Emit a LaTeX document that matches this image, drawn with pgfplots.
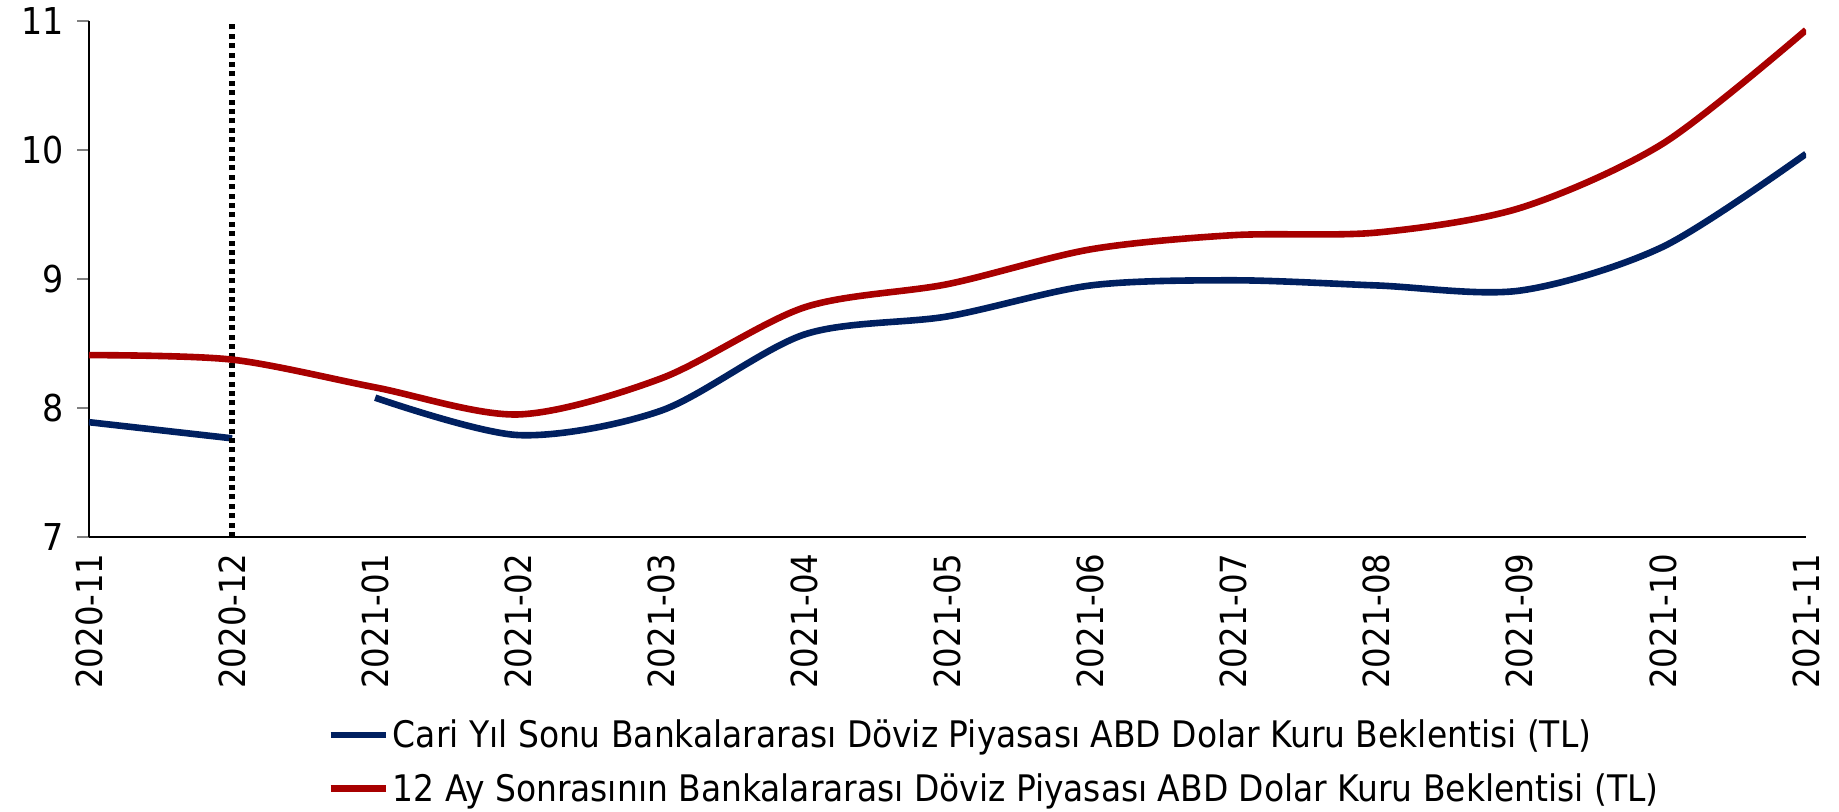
\documentclass[border=0pt]{standalone}
\usepackage{pgfplots}
\pgfplotsset{compat=1.18}
\usepackage{fontspec}
\setmainfont{DejaVu Sans Condensed}
\definecolor{cblue}{RGB}{0,32,96}
\definecolor{cred}{RGB}{168,0,0}
\begin{document}
\begin{tikzpicture}
\useasboundingbox (-44.5pt,-137.5pt) rectangle (875pt,268.5pt);
\begin{axis}[
  at={(0,0)}, anchor=south west,
  scale only axis, width=858.5pt, height=258pt,
  xmin=0, xmax=12, ymin=7, ymax=11,
  axis x line*=bottom, axis y line*=left,
  axis line style={-, line width=1pt},
  xtick={0,1,2,3,4,5,6,7,8,9,10,11,12},
  xticklabels={2020-11,2020-12,2021-01,2021-02,2021-03,2021-04,2021-05,2021-06,2021-07,2021-08,2021-09,2021-10,2021-11},
  x tick label style={rotate=90, anchor=east, inner sep=2pt, font=\fontsize{18}{18}\selectfont},
  xtick style={draw=none},
  ytick={7,8,9,10,11},
  y tick label style={font=\fontsize{18.5}{18.5}\selectfont, xshift=-3pt},
  ytick style={line width=1pt},
  tick align=outside, major tick length=6pt,
  /pgf/number format/assume math mode=true,
  legend style={at={(axis description cs:0.1386,-0.345)}, anchor=north west, draw=none,
    font=\fontsize{18.3}{18.3}\selectfont, row sep=7.5pt, inner sep=0pt},
  legend cell align=left,
  legend image code/.code={\draw[#1, line width=3.3pt] (0pt,0pt) -- (27.5pt,0pt);},
]
\addplot[cblue, line width=3.3pt, forget plot] coordinates {(0,7.89) (1,7.765)};
\addplot[black, line width=2.6pt, dash pattern=on 2.5pt off 2.2pt, forget plot] coordinates {(1,7) (1,11)};
\addplot[cblue, line width=3.3pt, smooth] coordinates {
(2,8.08) (3,7.79) (4,7.98) (5,8.57) (6,8.71) (7,8.95) (8,8.99) (9,8.95) (10,8.91) (11,9.25) (12,9.97)};
\addlegendentry{Cari Yıl Sonu Bankalararası Döviz Piyasası ABD Dolar Kuru Beklentisi (TL)}
\addplot[cred, line width=3.3pt, smooth] coordinates {
(0,8.41) (1,8.375) (2,8.16) (3,7.95) (4,8.23) (5,8.78) (6,8.96) (7,9.23) (8,9.34) (9,9.36) (10,9.55) (11,10.05) (12,10.93)};
\addlegendentry{12 Ay Sonrasının Bankalararası Döviz Piyasası ABD Dolar Kuru Beklentisi (TL)}
\end{axis}
\end{tikzpicture}
\end{document}
